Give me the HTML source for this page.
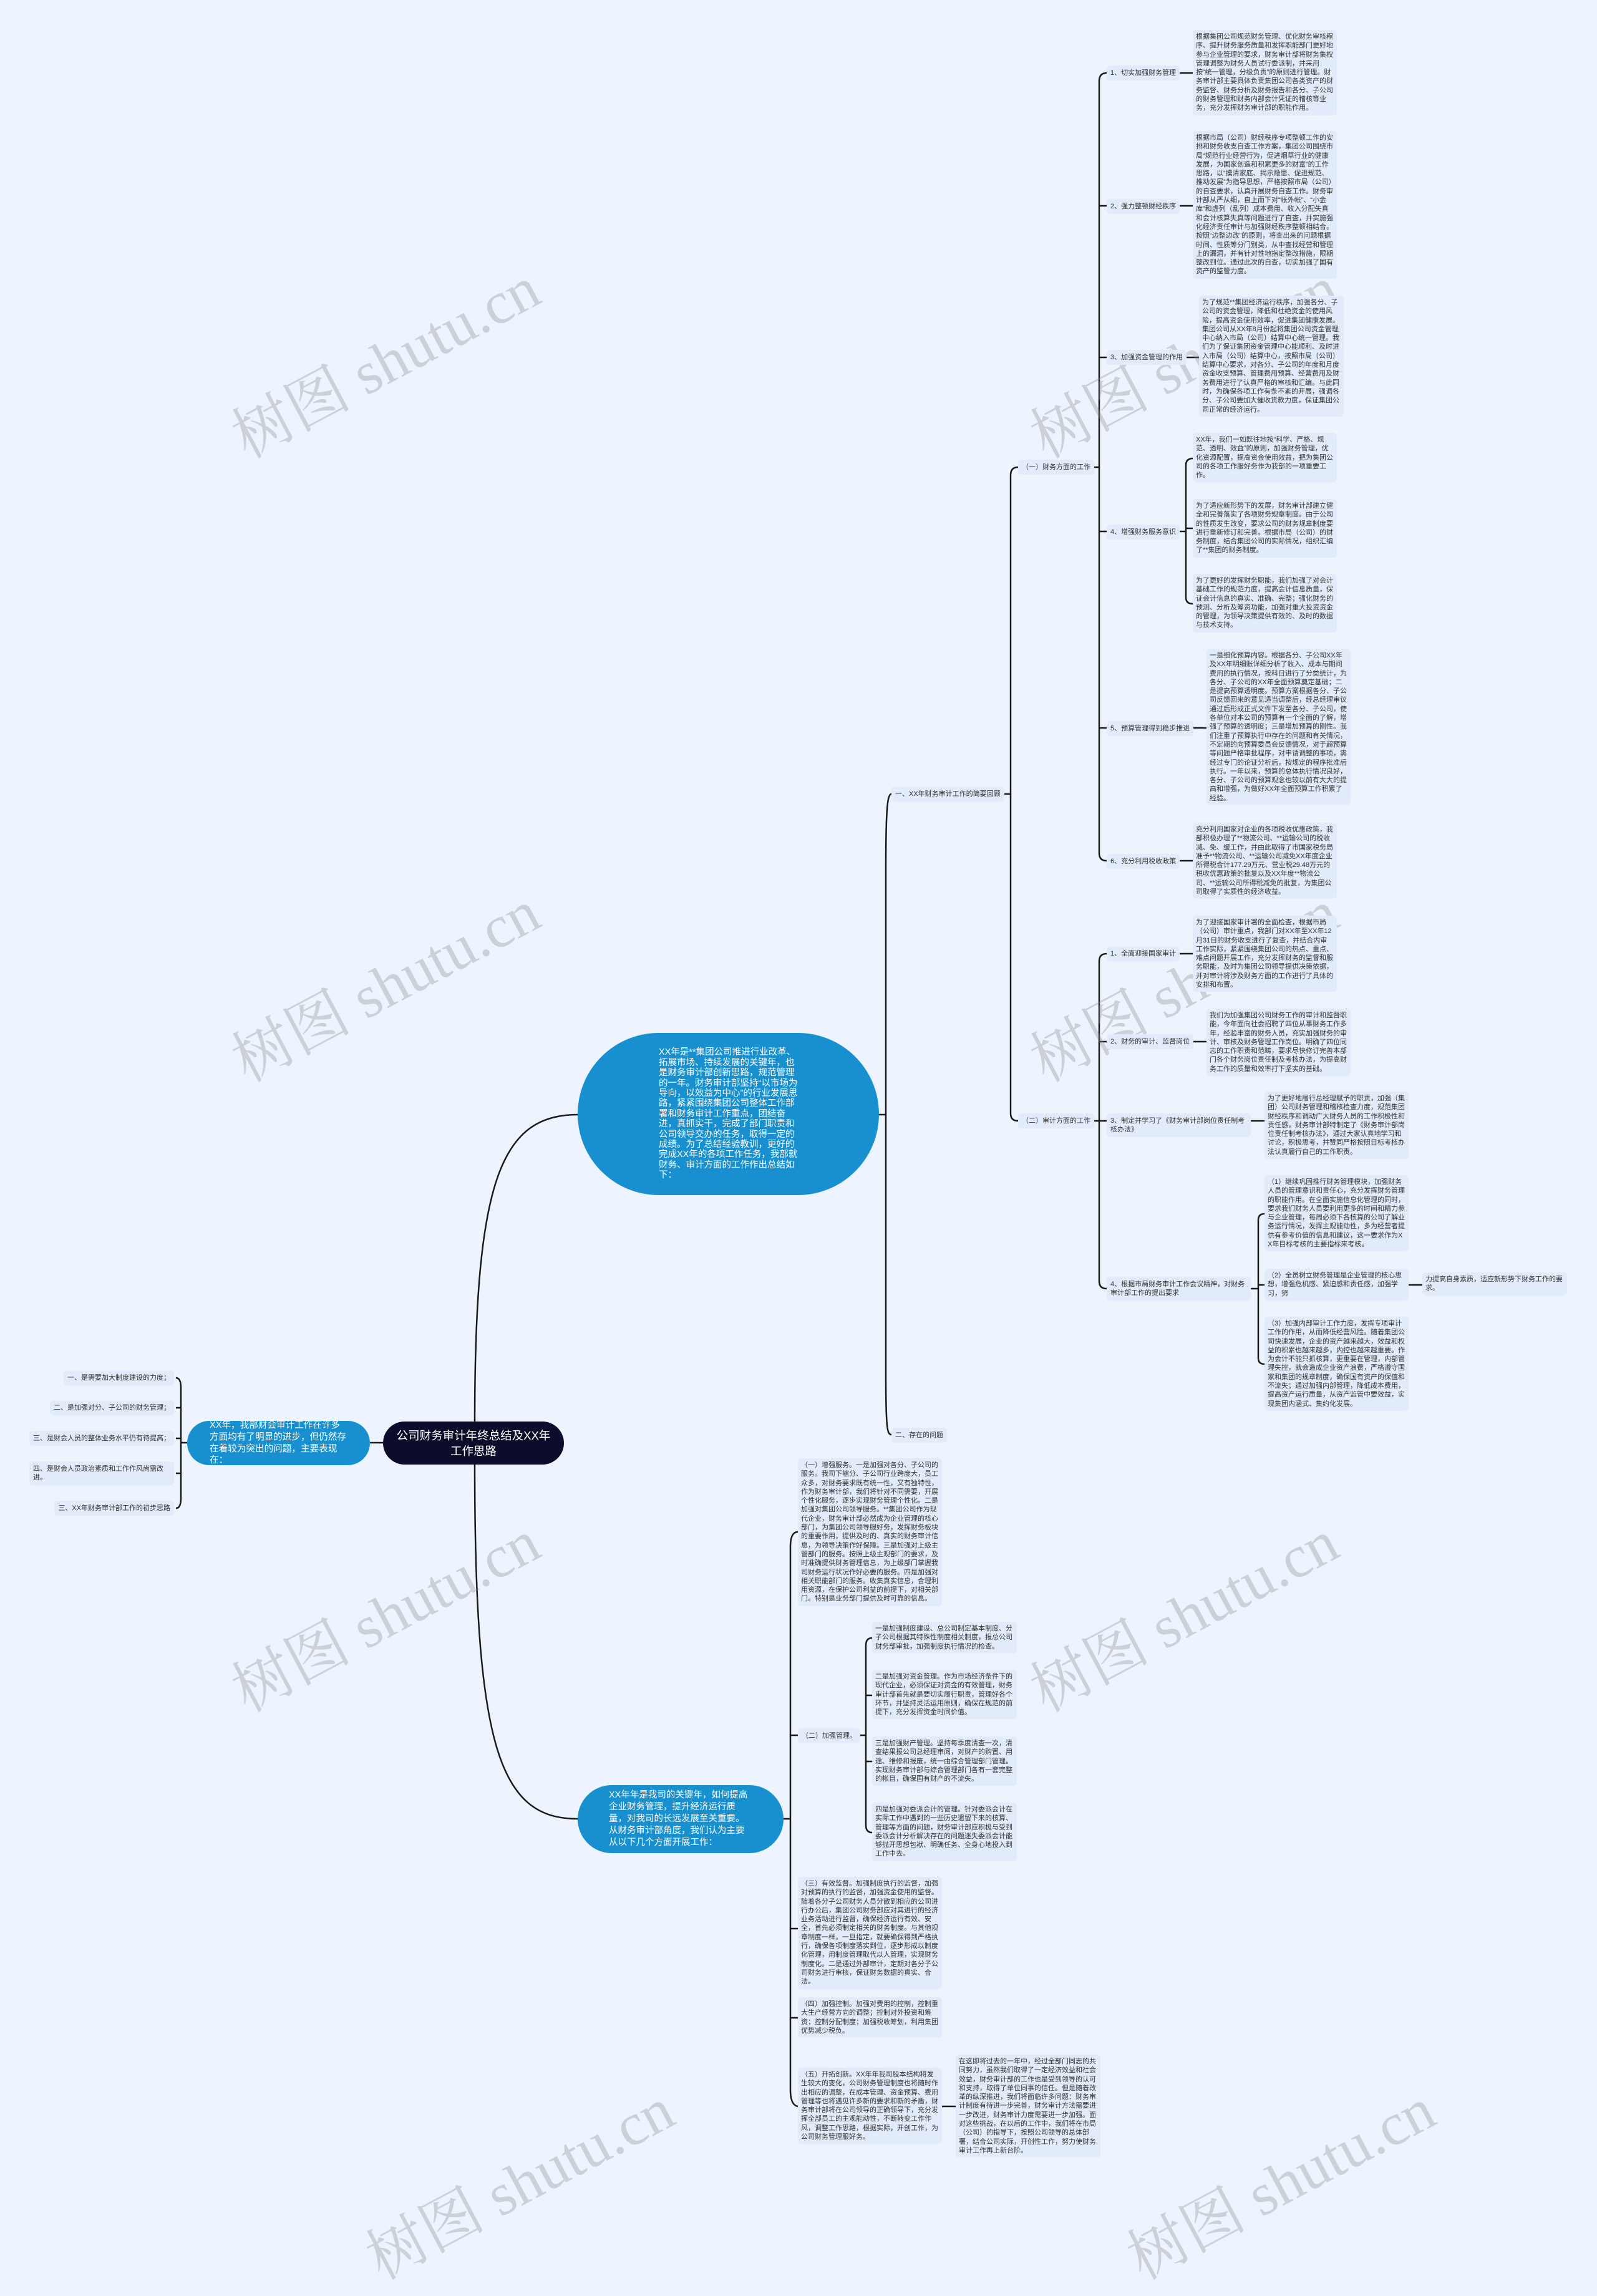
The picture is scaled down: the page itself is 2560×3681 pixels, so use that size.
<!DOCTYPE html>
<html><head><meta charset="utf-8">
<style>
html,body{margin:0;padding:0;}
body{width:2560px;height:3508px;background:#eef4fd;position:relative;overflow:hidden;font-family:"Liberation Sans","Noto Sans CJK SC",sans-serif;}
.t{position:absolute;background:#e2ebfa;border-radius:5px;color:#333;font-size:11px;line-height:14.3px;padding:4px 5px;box-sizing:border-box;word-break:break-all;}
.l{position:absolute;background:#e2ebfa;border-radius:5px;color:#333;font-size:11px;line-height:14px;padding:5px 6px;box-sizing:border-box;white-space:nowrap;}
.l2{position:absolute;background:#e2ebfa;border-radius:5px;color:#333;font-size:11px;line-height:14px;padding:5px 6px;box-sizing:border-box;word-break:break-all;}
.b{position:absolute;background:#1890d0;color:#fff;box-sizing:border-box;display:flex;align-items:center;justify-content:center;}
.w{position:absolute;font-family:"Liberation Serif","Noto Serif CJK SC",serif;font-size:96px;color:rgba(140,140,150,0.35);transform:rotate(-28deg);transform-origin:left top;white-space:nowrap;}
svg{position:absolute;left:0;top:0;}
</style></head><body>
<svg width="2560" height="3508" fill="none" stroke="#1a1a1a" stroke-width="2.5">
<path d="M761 2283 C761 1900 800 1787 926 1787"/>
<path d="M761 2348 C761 2800 800 2916 926 2916"/>
<path d="M614 2313 H593"/>
<path d="M300 2313 H290"/>
<path d="M282 2209 Q290 2209 290 2225 V2402 Q290 2418 282 2418"/>
<path d="M290 2257 H282 M290 2306 H282 M290 2362 H282"/>
<path d="M1409 1787 H1420"/>
<path d="M1429 1273 C1422 1273 1420 1300 1420 1400 V2200 C1420 2290 1422 2300 1429 2300"/>
<path d="M1609 1273 H1620"/>
<path d="M1632 749 Q1620 749 1620 762 V1785 Q1620 1797 1632 1797"/>
<path d="M1752 749 H1762"/>
<path d="M1774 117 Q1762 117 1762 130 V1368 Q1762 1380 1774 1380"/>
<path d="M1762 330 H1774 M1762 573 H1774 M1762 852 H1774 M1762 1167 H1774"/>
<path d="M1890 117 H1912 M1890 330 H1912 M1900 573 H1922 M1912 1167 H1934 M1890 1380 H1912"/>
<path d="M1890 852 H1901"/>
<path d="M1912 735 Q1901 735 1901 746 V958 Q1901 968 1912 968 M1901 847 H1912"/>
<path d="M1752 1797 H1762"/>
<path d="M1774 1529 Q1762 1529 1762 1541 V2054 Q1762 2066 1774 2066"/>
<path d="M1762 1670 H1774 M1762 1797 H1774"/>
<path d="M1889 1529 H1912 M1912 1670 H1934 M2005 1797 H2027"/>
<path d="M2005 2066 H2017"/>
<path d="M2027 1946 Q2017 1946 2017 1956 V2177 Q2017 2187 2027 2187 M2017 2060 H2027"/>
<path d="M2258 2060 H2280"/>
<path d="M1256 2916 H1267"/>
<path d="M1279 2456 Q1267 2456 1267 2480 V3350 Q1267 3375 1279 3377"/>
<path d="M1267 2782 H1279 M1267 3092 H1279 M1267 3235 H1279"/>
<path d="M1377 2782 H1388"/>
<path d="M1398 2626 Q1388 2626 1388 2638 V2926 Q1388 2938 1398 2938 M1388 2718 H1398 M1388 2824 H1398"/>
<path d="M1510 3377 H1532"/>
</svg>

<div class="w" style="left:345px;top:640px;">树图 shutu.cn</div>
<div class="w" style="left:1625px;top:640px;">树图 shutu.cn</div>
<div class="w" style="left:345px;top:1640px;">树图 shutu.cn</div>
<div class="w" style="left:1625px;top:1640px;">树图 shutu.cn</div>
<div class="w" style="left:345px;top:2650px;">树图 shutu.cn</div>
<div class="w" style="left:1625px;top:2650px;">树图 shutu.cn</div>
<div class="w" style="left:560px;top:3560px;">树图 shutu.cn</div>
<div class="w" style="left:1780px;top:3560px;">树图 shutu.cn</div>

<div class="b" style="left:614px;top:2279px;width:290px;height:69px;background:#0d0d2b;border-radius:35px;font-size:18.5px;line-height:25px;text-align:center;padding:0 20px;">公司财务审计年终总结及XX年工作思路</div>
<div class="b" style="left:300px;top:2278px;width:293px;height:71px;border-radius:36px;font-size:14.6px;line-height:18.7px;padding:0 36px;">XX年，我部财会审计工作在许多方面均有了明显的进步，但仍然存在着较为突出的问题，主要表现在：</div>
<div class="l" style="right:2281px;top:2197px;">一、是需要加大制度建设的力度；</div>
<div class="l" style="right:2281px;top:2245px;">二、是加强对分、子公司的财务管理；</div>
<div class="l" style="right:2281px;top:2294px;">三、是财会人员的整体业务水平仍有待提高；</div>
<div class="l2" style="left:47px;top:2343px;width:232px;">四、是财会人员政治素质和工作作风尚需改进。</div>
<div class="l" style="right:2281px;top:2406px;">三、XX年财务审计部工作的初步思路</div>

<div class="b" style="left:926px;top:1656px;width:483px;height:260px;border-radius:130px;font-size:14.5px;line-height:16.4px;padding:0 130px;">XX年是**集团公司推进行业改革、拓展市场、持续发展的关键年，也是财务审计部创新思路，规范管理的一年。财务审计部坚持“以市场为导向，以效益为中心”的行业发展思路，紧紧围绕集团公司整体工作部署和财务审计工作重点，团结奋进，真抓实干，完成了部门职责和公司领导交办的任务，取得一定的成绩。为了总结经验教训，更好的完成XX年的各项工作任务，我部就财务、审计方面的工作作出总结如下：</div>
<div class="l" style="left:1429px;top:1261px;">一、XX年财务审计工作的简要回顾</div>
<div class="l" style="left:1429px;top:2289px;">二、存在的问题</div>
<div class="l" style="left:1632px;top:737px;">（一）财务方面的工作</div>
<div class="l" style="left:1632px;top:1785px;">（二）审计方面的工作</div>

<div class="l" style="left:1774px;top:105px;">1、切实加强财务管理</div>
<div class="t" style="left:1912px;top:48px;width:231px;">根据集团公司规范财务管理、优化财务审核程序、提升财务服务质量和发挥职能部门更好地参与企业管理的要求，财务审计部将财务集权管理调整为财务人员试行委派制，并采用按“统一管理，分级负责”的原则进行管理。财务审计部主要具体负责集团公司各类资产的财务监督、财务分析及财务报告和各分、子公司的财务管理和财务内部会计凭证的稽核等业务，充分发挥财务审计部的职能作用。</div>
<div class="l" style="left:1774px;top:319px;">2、强力整顿财经秩序</div>
<div class="t" style="left:1912px;top:210px;width:231px;">根据市局（公司）财经秩序专项整顿工作的安排和财务收支自查工作方案，集团公司围绕市局“规范行业经营行为，促进烟草行业的健康发展，为国家创造和积累更多的财富”的工作思路，以“摸清家底、揭示隐患、促进规范、推动发展”为指导思想，严格按照市局（公司）的自查要求，认真开展财务自查工作。财务审计部从严从细，自上而下对“帐外帐”、“小金库”和虚列（乱列）成本费用、收入分配失真和会计核算失真等问题进行了自查，并实施强化经济责任审计与加强财经秩序整顿相结合。按照“边整边改”的原则，将查出来的问题根据时间、性质等分门别类，从中查找经营和管理上的漏洞，并有针对性地指定整改措施，限期整改到位。通过此次的自查，切实加强了国有资产的监管力度。</div>
<div class="l" style="left:1774px;top:561px;">3、加强资金管理的作用</div>
<div class="t" style="left:1922px;top:474px;width:232px;">为了规范**集团经济运行秩序，加强各分、子公司的资金管理，降低和杜绝资金的使用风险，提高资金使用效率，促进集团健康发展。集团公司从XX年8月份起将集团公司资金管理中心纳入市局（公司）结算中心统一管理。我们为了保证集团资金管理中心能顺利、及时进入市局（公司）结算中心，按照市局（公司）结算中心要求，对各分、子公司的年度和月度资金收支预算、管理费用预算、经营费用及财务费用进行了认真严格的审核和汇编。与此同时，为确保各项工作有条不紊的开展，强调各分、子公司要加大催收货款力度，保证集团公司正常的经济运行。</div>
<div class="l" style="left:1774px;top:841px;">4、增强财务服务意识</div>
<div class="t" style="left:1912px;top:694px;width:231px;">XX年，我们一如既往地按“科学、严格、规范、透明、效益”的原则，加强财务管理，优化资源配置，提高资金使用效益，把为集团公司的各项工作服好务作为我部的一项重要工作。</div>
<div class="t" style="left:1912px;top:800px;width:231px;">为了适应新形势下的发展，财务审计部建立健全和完善落实了各项财务规章制度。由于公司的性质发生改变，要求公司的财务规章制度要进行重新修订和完善。根据市局（公司）的财务制度，结合集团公司的实际情况，组织汇编了**集团的财务制度。</div>
<div class="t" style="left:1912px;top:920px;width:231px;">为了更好的发挥财务职能，我们加强了对会计基础工作的规范力度，提高会计信息质量，保证会计信息的真实、准确、完整；强化财务的预测、分析及筹资功能，加强对重大投资资金的管理，为领导决策提供有效的、及时的数据与技术支持。</div>
<div class="l" style="left:1774px;top:1156px;">5、预算管理得到稳步推进</div>
<div class="t" style="left:1934px;top:1040px;width:231px;">一是细化预算内容。根据各分、子公司XX年及XX年明细账详细分析了收入、成本与期间费用的执行情况，按科目进行了分类统计，为各分、子公司的XX年全面预算奠定基础；二是提高预算透明度。预算方案根据各分、子公司反馈回来的意见适当调整后，经总经理审议通过后形成正式文件下发至各分、子公司，使各单位对本公司的预算有一个全面的了解，增强了预算的透明度；三是增加预算的刚性。我们注重了预算执行中存在的问题和有关情况，不定期的向预算委员会反馈情况，对于超预算等问题严格审批程序，对申请调整的事项，需经过专门的论证分析后，按规定的程序批准后执行。一年以来，预算的总体执行情况良好，各分、子公司的预算观念也较以前有大大的提高和增强，为做好XX年全面预算工作积累了经验。</div>
<div class="l" style="left:1774px;top:1369px;">6、充分利用税收政策</div>
<div class="t" style="left:1912px;top:1319px;width:231px;">充分利用国家对企业的各项税收优惠政策，我部积极办理了**物流公司、**运输公司的税收减、免、缓工作，并由此取得了市国家税务局准予**物流公司、**运输公司减免XX年度企业所得税合计177.29万元、营业税29.48万元的税收优惠政策的批复以及XX年度**物流公司、**运输公司所得税减免的批复，为集团公司取得了实质性的经济收益。</div>

<div class="l" style="left:1774px;top:1517px;">1、全面迎接国家审计</div>
<div class="t" style="left:1912px;top:1468px;width:231px;">为了迎接国家审计署的全面检查，根据市局（公司）审计重点，我部门对XX年至XX年12月31日的财务收支进行了复查，并结合内审工作实际，紧紧围绕集团公司的热点、重点、难点问题开展工作，充分发挥财务的监督和服务职能，及时为集团公司领导提供决策依据，并对审计将涉及财务方面的工作进行了具体的安排和布置。</div>
<div class="l" style="left:1774px;top:1658px;">2、财务的审计、监督岗位</div>
<div class="t" style="left:1934px;top:1617px;width:231px;">我们为加强集团公司财务工作的审计和监督职能，今年面向社会招聘了四位从事财务工作多年，经验丰富的财务人员，充实加强财务的审计、审核及财务管理工作岗位。明确了四位同志的工作职责和范畴，要求尽快修订完善本部门各个财务岗位责任制及考核办法，为提高财务工作的质量和效率打下坚实的基础。</div>
<div class="l2" style="left:1774px;top:1785px;width:231px;">3、制定并学习了《财务审计部岗位责任制考核办法》</div>
<div class="t" style="left:2027px;top:1750px;width:231px;">为了更好地履行总经理赋予的职责，加强（集团）公司财务管理和稽核检查力度，规范集团财经秩序和调动广大财务人员的工作积极性和责任感，财务审计部特制定了《财务审计部岗位责任制考核办法》，通过大家认真地学习和讨论，积极思考，并赞同严格按照目标考核办法认真履行自己的工作职责。</div>
<div class="l2" style="left:1774px;top:2047px;width:231px;">4、根据市局财务审计工作会议精神，对财务审计部工作的提出要求</div>
<div class="t" style="left:2027px;top:1884px;width:231px;">（1）继续巩固推行财务管理模块，加强财务人员的管理意识和责任心，充分发挥财务管理的职能作用。在全面实施信息化管理的同时，要求我们财务人员要利用更多的时间和精力参与企业管理，每周必须下各核算的公司了解业务运行情况，发挥主观能动性，多为经营者提供有参考价值的信息和建议，这一要求作为XX年目标考核的主要指标来考核。</div>
<div class="t" style="left:2027px;top:2034px;width:231px;">（2）全员树立财务管理是企业管理的核心思想，增强危机感、紧迫感和责任感，加强学习，努</div>
<div class="t" style="left:2280px;top:2040px;width:232px;">力提高自身素质，适应新形势下财务工作的要求。</div>
<div class="t" style="left:2027px;top:2111px;width:231px;">（3）加强内部审计工作力度，发挥专项审计工作的作用，从而降低经营风险。随着集团公司快速发展，企业的资产越来越大，效益和权益的积累也越来越多，内控也越来越重要。作为会计不能只抓核算，更重要在管理，内部管理失控，就会造成企业资产浪费，严格遵守国家和集团的规章制度，确保国有资产的保值和不流失；通过加强内部管理，降低成本费用，提高资产运行质量，从资产监管中要效益，实现集团内涵式、集约化发展。</div>

<div class="b" style="left:926px;top:2862px;width:330px;height:109px;border-radius:55px;font-size:14.5px;line-height:18.9px;padding:0 50px;">XX年年是我司的关键年，如何提高企业财务管理，提升经济运行质量，对我司的长远发展至关重要。从财务审计部角度，我们认为主要从以下几个方面开展工作：</div>
<div class="t" style="left:1279px;top:2338px;width:231px;">（一）增强服务。一是加强对各分、子公司的服务。我司下辖分、子公司行业跨度大，员工众多，对财务要求既有统一性，又有独特性，作为财务审计部，我们将针对不同需要，开展个性化服务，逐步实现财务管理个性化。二是加强对集团公司领导服务。**集团公司作为现代企业，财务审计部必然成为企业管理的核心部门，为集团公司领导服好务，发挥财务板块的重要作用，提供及时的、真实的财务审计信息，为领导决策作好保障。三是加强对上级主管部门的服务。按照上级主观部门的要求，及时准确提供财务管理信息，为上级部门掌握我司财务运行状况作好必要的服务。四是加强对相关职能部门的服务。收集真实信息，合理利用资源，在保护公司利益的前提下，对相关部门。特别是业务部门提供及时可靠的信息。</div>
<div class="l" style="left:1279px;top:2771px;">（二）加强管理。</div>
<div class="t" style="left:1398px;top:2600px;width:232px;">一是加强制度建设、总公司制定基本制度、分子公司根据其特殊性制度相关制度，报总公司财务部审批，加强制度执行情况的检查。</div>
<div class="t" style="left:1398px;top:2677px;width:232px;">二是加强对资金管理。作为市场经济条件下的现代企业，必须保证对资金的有效管理，财务审计部首先就是要切实履行职责，管理好各个环节，并坚持灵活运用原则，确保在规范的前提下，充分发挥资金时间价值。</div>
<div class="t" style="left:1398px;top:2784px;width:232px;">三是加强财产管理。坚持每季度清查一次，清查结果报公司总经理审阅，对财产的购置、用途、维修和报废，统一由综合管理部门管理。实现财务审计部与综合管理部门各有一套完整的帐目，确保国有财产的不流失。</div>
<div class="t" style="left:1398px;top:2890px;width:232px;">四是加强对委派会计的管理。针对委派会计在实际工作中遇到的一些历史遗留下来的核算、管理等方面的问题，财务审计部应积极与受到委派会计分析解决存在的问题迷失委派会计能够抛开思想包袱、明确任务、全身心地投入到工作中去。</div>
<div class="t" style="left:1279px;top:3009px;width:231px;">（三）有效监督。加强制度执行的监督，加强对预算的执行的监督，加强资金使用的监督。随着各分子公司财务人员分散到相应的公司进行办公后，集团公司财务部应对其进行的经济业务活动进行监督，确保经济运行有效、安全，首先必须制定相关的财务制度。与其他规章制度一样，一旦指定，就要确保得到严格执行，确保各项制度落实到位，逐步形成以制度化管理，用制度管理取代以人管理，实现财务制度化。二是通过外部审计，定期对各分子公司财务进行审核，保证财务数据的真实、合法。</div>
<div class="t" style="left:1279px;top:3202px;width:231px;">（四）加强控制。加强对费用的控制，控制重大生产经营方向的调整；控制对外投资和筹资；控制分配制度；加强税收筹划，利用集团优势减少税负。</div>
<div class="t" style="left:1279px;top:3315px;width:231px;">（五）开拓创新。XX年年我司股本结构将发生较大的变化，公司财务管理制度也将随时作出相应的调整，在成本管理、资金预算、费用管理等也将遇见许多新的要求和新的矛盾，财务审计部将在公司领导的正确领导下，充分发挥全部员工的主观能动性，不断转变工作作风，调整工作思路，根据实际，开创工作，为公司财务管理服好务。</div>
<div class="t" style="left:1532px;top:3294px;width:232px;">在这即将过去的一年中，经过全部门同志的共同努力，虽然我们取得了一定经济效益和社会效益，财务审计部的工作也是受到领导的认可和支持，取得了单位同事的信任。但是随着改革的纵深推进，我们将面临许多问题：财务审计制度有待进一步完善，财务审计方法需要进一步改进，财务审计力度需要进一步加强。面对这些挑战，在以后的工作中，我们将在市局（公司）的指导下，按照公司领导的总体部署，结合公司实际，开创性工作，努力使财务审计工作再上新台阶。</div>
</body></html>
